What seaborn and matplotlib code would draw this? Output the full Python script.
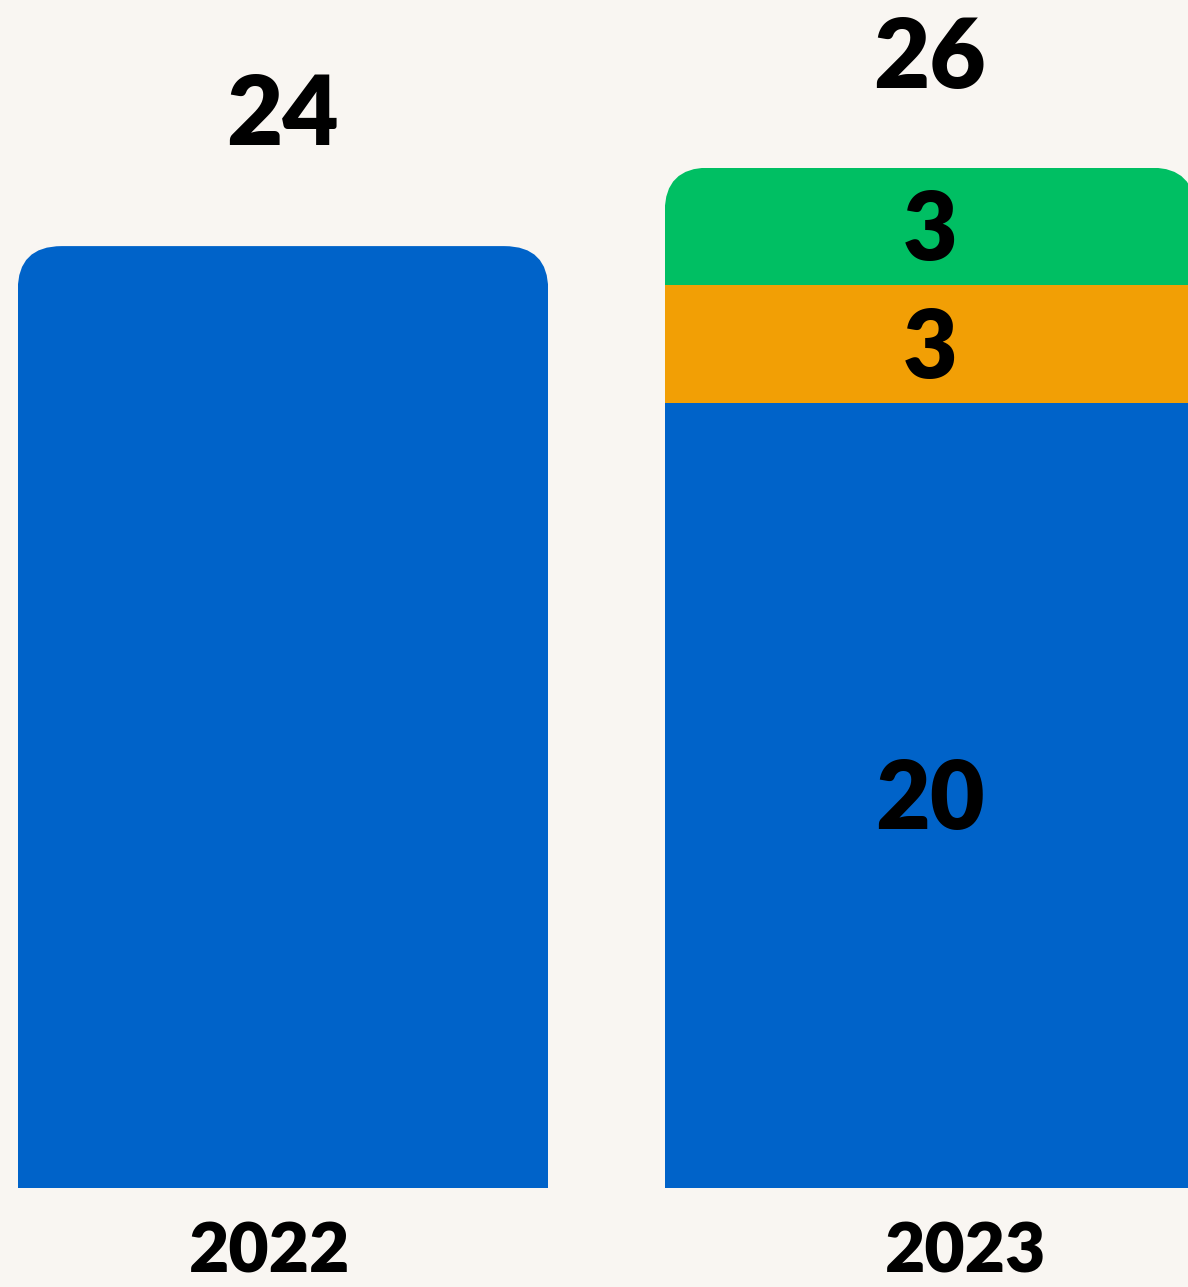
"""Stacked yearly bar chart with rounded tops."""

import matplotlib

matplotlib.use("Agg")
import matplotlib.pyplot as plt
import numpy as np
import seaborn as sns
from matplotlib.patches import FancyBboxPatch

# Data
years = ["2022", "2023"]
blue_vals = [24, 20]
orange_vals = [0, 3]
green_vals = [0, 3]

BG = "#F9F6F2"
segments = [
    ("blue", blue_vals, "#0063C9"),
    ("orange", orange_vals, "#F29F05"),
    ("green", green_vals, "#00BF63"),
]

# layout tweaks (data units)
total_label_gap = [2.57, 2.03]
year_label_shift = [-0.02, 0.055]

sns.set_theme(style="white")
plt.rcParams["font.family"] = ["Lato", "DejaVu Sans"]

fig = plt.figure(figsize=(11.88, 12.87), dpi=100, facecolor=BG)
ax = fig.add_axes([0, 0, 1, 1])
ax.set_facecolor(BG)

bottoms = np.zeros(len(years))
bar_patches = {}  # column -> list of (patch, value, bottom)
for name, vals, color in segments:
    sns.barplot(
        x=years,
        y=vals,
        order=years,
        color=color,
        saturation=1,
        width=0.82,
        bottom=bottoms.copy(),
        linewidth=0,
        ax=ax,
    )
    for i, p in enumerate(ax.patches[-len(years):]):
        bar_patches.setdefault(i, []).append((p, vals[i], bottoms[i]))
    bottoms = bottoms + np.array(vals)

totals = bottoms

ax.set_xlim(-0.4374, 1.3988)
ax.set_ylim(-2.52, 30.27)
ax.axis("off")

# Round the top corners of each stack by clipping its top segment
fig.canvas.draw()
px_x = ax.transData.transform((1, 0))[0] - ax.transData.transform((0, 0))[0]
px_y = ax.transData.transform((0, 1))[1] - ax.transData.transform((0, 0))[1]
radius_px = 44
r = radius_px / px_x
aspect = px_x / px_y
for i, items in bar_patches.items():
    visible = [it for it in items if it[1] > 0]
    top_patch = visible[-1][0]
    x0 = top_patch.get_x()
    w = top_patch.get_width()
    clip = FancyBboxPatch(
        (x0, -5), w, totals[i] + 5,
        boxstyle=f"round,pad=0,rounding_size={r}",
        mutation_aspect=aspect,
        transform=ax.transData,
    )
    top_patch.set_clip_path(clip)

    # segment labels inside stacked columns
    if len(visible) > 1:
        for p, v, b in visible:
            ax.text(
                i, b + v / 2 - 0.85, f"{v:g}",
                ha="center", va="baseline",
                fontsize=68, fontweight="heavy", color="black",
            )

    # total label above column
    ax.text(
        i, totals[i] + total_label_gap[i], f"{totals[i]:g}",
        ha="center", va="baseline",
        fontsize=70, fontweight="heavy", color="black",
    )

    # year label below column
    ax.text(
        i + year_label_shift[i], -2.14, years[i],
        ha="center", va="baseline",
        fontsize=50, fontweight="heavy", color="black",
    )

fig.savefig("out.png", dpi=100, facecolor=BG)
